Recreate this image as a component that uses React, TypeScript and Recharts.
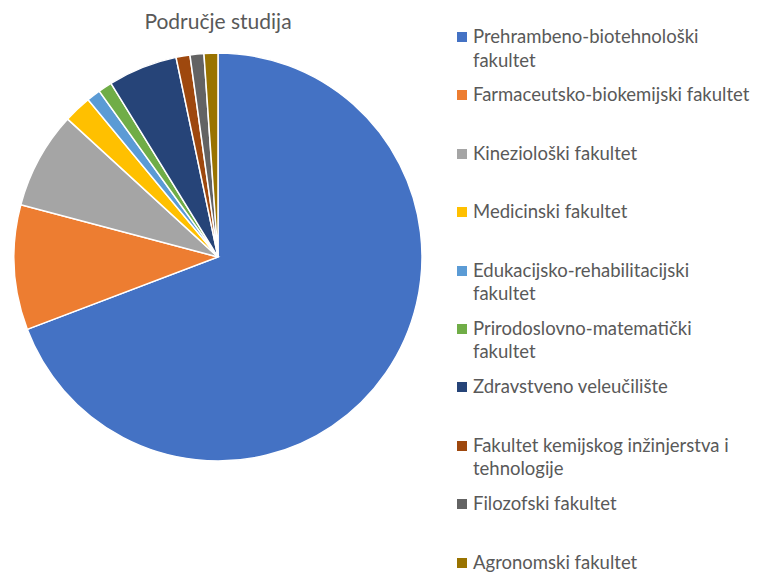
import { PieChart, Pie, Cell, Legend } from 'recharts';

const faculties = [
  'Prehrambeno-biotehnološki fakultet',
  'Farmaceutsko-biokemijski fakultet',
  'Kineziološki fakultet',
  'Medicinski fakultet',
  'Edukacijsko-rehabilitacijski fakultet',
  'Prirodoslovno-matematički fakultet',
  'Zdravstveno veleučilište',
  'Fakultet kemijskog inžinjerstva i tehnologije',
  'Filozofski fakultet',
  'Agronomski fakultet',
];

const students = [63, 9, 7, 2, 1, 1, 5, 1, 1, 1];

const colors = [
  '#4472C4', '#ED7D31', '#A5A5A5', '#FFC000', '#5B9BD5',
  '#70AD47', '#264478', '#9E480E', '#636363', '#997300',
];

const data = faculties.map((name, i) => ({ name, value: students[i] }));

const FONT = 'Lato, "Open Sans", sans-serif';

// keep the original order (recharts sorts the payload by name)
function LegendList() {
  return (
    <div style={{ fontFamily: FONT, fontSize: 18.5, color: '#595959' }}>
      {faculties.map((name, i) => (
        <div key={name} style={{ height: 58.4, display: 'flex', alignItems: 'flex-start' }}>
          <span
            style={{
              width: 10,
              height: 10,
              background: colors[i],
              marginTop: 7,
              marginRight: 6,
              flexShrink: 0,
            }}
          />
          <span style={{ width: 278, lineHeight: '23.5px' }}>{name}</span>
        </div>
      ))}
    </div>
  );
}

export default function App() {
  return (
    <div
      style={{
        position: 'fixed',
        left: 0,
        top: 0,
        width: 757,
        height: 576,
        overflow: 'hidden',
        background: '#fff',
      }}
    >
      <div
        style={{
          position: 'absolute',
          left: 0,
          width: 436,
          top: 8,
          textAlign: 'center',
          fontFamily: FONT,
          fontSize: 21,
          color: '#595959',
          zIndex: 2,
        }}
      >
        Područje studija
      </div>
      <PieChart width={757} height={576} margin={{ top: 0, right: 0, bottom: 0, left: 0 }}>
        <Pie
          data={data}
          dataKey="value"
          nameKey="name"
          cx={218}
          cy={257}
          outerRadius={204}
          startAngle={90}
          endAngle={-270}
          stroke="#fff"
          strokeWidth={1.5}
          isAnimationActive={false}
        >
          {data.map((d, i) => (
            <Cell key={d.name} fill={colors[i]} />
          ))}
        </Pie>
        <Legend
          layout="vertical"
          align="right"
          verticalAlign="top"
          content={<LegendList />}
          wrapperStyle={{ left: 457, top: 25, width: 300 }}
        />
      </PieChart>
    </div>
  );
}
